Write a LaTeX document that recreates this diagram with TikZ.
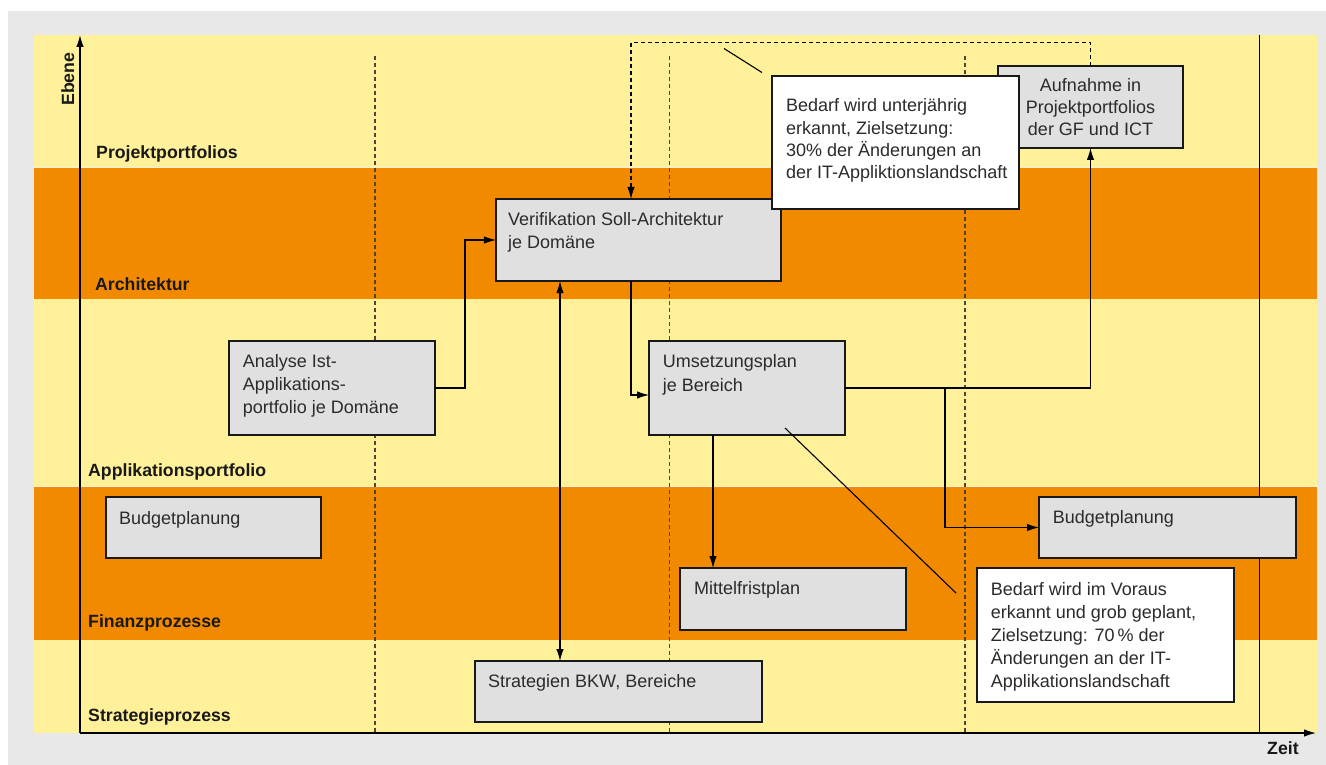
\documentclass[tikz,border=0pt]{standalone}
\usepackage{fontspec}
\setmainfont{Liberation Sans}
\usetikzlibrary{arrows.meta,calc}
\definecolor{bandyellow}{HTML}{FFF09A}
\definecolor{bandorange}{HTML}{F28A00}
\definecolor{bggray}{HTML}{E8E8E8}
\definecolor{boxgray}{HTML}{E0E0E0}
\definecolor{txtgray}{HTML}{2B2B2B}
\definecolor{dashbrown}{HTML}{4E4535}
\definecolor{paleline}{HTML}{F6F1DC}
\begin{document}
\begin{tikzpicture}[x=1pt,y=-1pt,
  box/.style={draw=black!90, line width=1.3pt, fill=boxgray, anchor=north west, inner sep=0pt, outer sep=0pt},
  note/.style={box, fill=white},
  txt/.style={inner sep=0pt, anchor=north west, align=left, text=txtgray, font=\fontsize{18}{23}\selectfont},
  lay/.style={inner sep=0pt, anchor=base west, font=\fontsize{17.7}{20}\selectfont\bfseries, text=black!90},
  conn/.style={line width=1.1pt, draw=black},
  arr/.style={conn, -{Latex[length=12pt,width=7.5pt]}},
  dbl/.style={conn, {Latex[length=12pt,width=7.5pt]}-{Latex[length=12pt,width=7.5pt]}},
  gridline/.style={draw=dashbrown, line width=1.2pt, dash pattern=on 4pt off 3pt},
  axis/.style={line width=1.3pt, draw=black, -{Latex[length=12pt,width=7.5pt]}},
]
\useasboundingbox (0,0) rectangle (1326,765);
% background
\fill[bggray] (8,11) rectangle (1326,765);
\fill[bandyellow] (34,35) rectangle (1317,168);
\fill[bandorange] (34,168) rectangle (1317,299.3);
\fill[bandyellow] (34,299.3) rectangle (1317,486.5);
\fill[bandorange] (34,486.5) rectangle (1317,639.5);
\fill[bandyellow] (34,639.5) rectangle (1317,733);
\draw[paleline, line width=1pt] (34,167.8) -- (1317,167.8);
\draw[paleline, line width=1pt] (34,486.3) -- (1317,486.3);
% grid lines
\draw[gridline] (375,56) -- (375,733);
\draw[gridline] (669.5,56) -- (669.5,733);
\draw[gridline] (965,56) -- (965,733);
\draw[line width=1.1pt] (1259.5,35) -- (1259.5,733);
% axes
\coordinate (origin) at (80,733);
\coordinate (ytip) at (80,35);
\coordinate (xtip) at (1316,733);
\draw[axis] (origin) -- (ytip);
\draw[axis] (origin) -- (xtip);
\node[lay, rotate=90] (ebene) at (74,106) {Ebene};
\node[lay] (zeit) at (1267,754.3) {Zeit};
% layer labels
\node[lay] (lproj) at (96,158.3) {Projektportfolios};
\node[lay] (larch) at (95,290.7) {Architektur};
\node[lay] (lapp) at (88,476) {Applikationsportfolio};
\node[lay] (lfin) at (88,627.3) {Finanzprozesse};
\node[lay] (lstrat) at (88,721.7) {Strategieprozess};
% boxes
\node[box, minimum width=285pt, minimum height=82pt] (verif) at (496,199) {};
\node[txt] (verift) at (508,209.4) {\strut Verifikation Soll-Architektur\\je Domäne};
\node[box, minimum width=185pt, minimum height=82pt] (aufn) at (998,66) {};
\node[txt, anchor=north, align=center, font=\fontsize{18}{21.7}\selectfont] (aufnt) at (1090.5,76.5) {\strut Aufnahme in\\Projektportfolios\\der GF und ICT};
\node[box, minimum width=206pt, minimum height=94pt] (analyse) at (229,341) {};
\node[txt] (analyset) at (242.7,351.2) {\strut Analyse Ist-\\Applikations-\\portfolio je Domäne};
\node[box, minimum width=196pt, minimum height=94pt] (umsetz) at (649,341) {};
\node[txt, font=\fontsize{18}{23.6}\selectfont] (umsetzt) at (662.7,350.8) {\strut Umsetzungsplan\\je Bereich};
\node[box, minimum width=226pt, minimum height=62pt] (mittel) at (680,568) {};
\node[txt] (mittelt) at (694,578.4) {\strut Mittelfristplan};
\node[box, minimum width=215pt, minimum height=61pt] (budget1) at (106,497) {};
\node[txt] (budget1t) at (119,507.9) {\strut Budgetplanung};
\node[box, minimum width=257pt, minimum height=61pt] (budget2) at (1039,497) {};
\node[txt] (budget2t) at (1052.7,507.4) {\strut Budgetplanung};
\node[box, minimum width=287pt, minimum height=61pt] (strat) at (475,661) {};
\node[txt] (stratt) at (488,671.2) {\strut Strategien BKW, Bereiche};
\node[note, minimum width=247pt, minimum height=133pt] (note1) at (772,76) {};
\node[txt, font=\fontsize{18}{22.2}\selectfont] (note1t) at (786,96.2) {\strut Bedarf wird unterjährig\\erkannt, Zielsetzung:\\30\% der Änderungen an\\der IT-Appliktionslandschaft};
\node[note, minimum width=257pt, minimum height=134pt] (note2) at (977,568) {};
\node[txt] (note2t) at (990.7,578.9) {\strut Bedarf wird im Voraus\\erkannt und grob geplant,\\Zielsetzung: 70\,\% der\\Änderungen an der IT-\\Applikationslandschaft};
% connectors
\draw[arr] (analyse.east) -- ++(30,0) |- (verif.west);
\draw[arr] ($(verif.south west)+(135,0)$) |- ($(umsetz.west)+(0,7)$);
\draw[arr] ($(umsetz.south west)+(64,0)$) -- ($(mittel.north west)+(33,0)$);
\draw[arr] (umsetz.east) -| (aufn.south);
\draw[arr] ($(umsetz.east)+(100,0)$) |- (budget2.west);
\draw[dbl] ($(verif.south west)+(64,0)$) -- ($(strat.north west)+(85,0)$);
\draw[arr, dash pattern=on 4pt off 3pt] (aufn.north) -- ++(0,-23.3) -| ($(verif.north west)+(135,0)$);
% callout pointers
\draw[conn] ($(note1.north west)+(-10,-3.5)$) -- ($(note1.north west)+(-48,-27.5)$);
\draw[conn] ($(note2.north west)+(-21,25)$) -- ($(umsetz.north west)+(136,87)$);
\end{tikzpicture}
\end{document}
